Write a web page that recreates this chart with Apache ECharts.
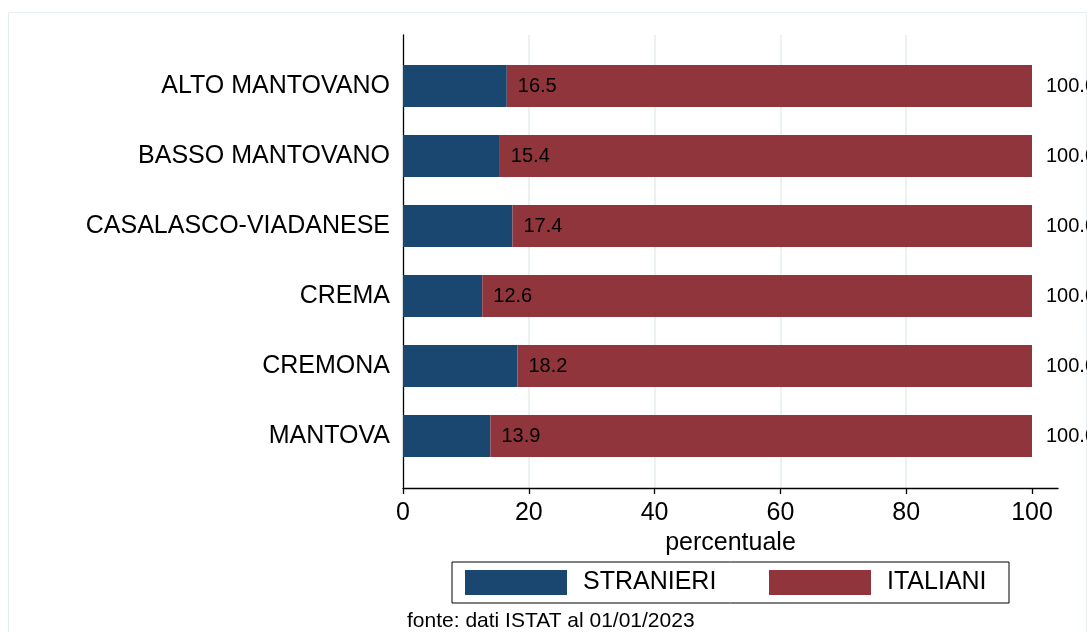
<!DOCTYPE html>
<html>
<head>
<meta charset="utf-8">
<title>Stranieri e italiani per distretto</title>
<script src="https://cdn.jsdelivr.net/npm/echarts@6/dist/echarts.min.js"></script>
<style>
  html, body { margin: 0; padding: 0; background: #fff; }
  #chart { width: 1087px; height: 632px; }
</style>
</head>
<body>
<div id="chart"></div>
<script>
const categories = ['ALTO MANTOVANO', 'BASSO MANTOVANO', 'CASALASCO-VIADANESE', 'CREMA', 'CREMONA', 'MANTOVA'];
const stranieri = [16.5, 15.4, 17.4, 12.6, 18.2, 13.9];
const italiani = [83.5, 84.6, 82.6, 87.4, 81.8, 86.1];
const totali = [100.0, 100.0, 100.0, 100.0, 100.0, 100.0];
const xTicks = [0, 20, 40, 60, 80, 100];

const font = "'Liberation Sans', Arial, sans-serif";
const navy = '#1a476f';
const maroon = '#90353b';

const chart = echarts.init(document.getElementById('chart'));

const option = {
  animation: false,
  textStyle: { fontFamily: font, color: '#000' },
  title: {
    text: 'fonte: dati ISTAT al 01/01/2023',
    left: 407,
    top: 611,
    padding: 0,
    textStyle: { fontFamily: font, fontSize: 21, fontWeight: 'normal', color: '#000' },
  },
  legend: {
    left: 452,
    top: 562,
    padding: [8, 13],
    itemGap: 42,
    itemWidth: 102,
    itemHeight: 25,
    icon: 'rect',
    borderColor: '#000',
    borderWidth: 1,
    selectedMode: false,
    textStyle: { fontFamily: font, fontSize: 25, color: '#000', lineHeight: 25, padding: [0, 0, 0, 11] },
    data: [
      { name: 'STRANIERI', textStyle: { width: 144 } },
      { name: 'ITALIANI', textStyle: { width: 109 } },
    ],
  },
  graphic: [
    {
      type: 'rect',
      silent: true,
      shape: { x: 8.5, y: 12.5, width: 1078, height: 640 },
      style: { fill: 'none', stroke: '#e6eef1', lineWidth: 1 },
    },
  ],
  grid: [
    // frame: axis lines, ticks and grid lines
    { left: 403, top: 35, width: 655, height: 453 },
    // bars
    { left: 403, top: 51, width: 629, height: 420 },
  ],
  xAxis: [
    {
      gridIndex: 0,
      type: 'value',
      min: 0,
      max: 104.13,
      interval: 20,
      name: 'percentuale',
      nameLocation: 'middle',
      nameGap: 36,
      nameTextStyle: { fontFamily: font, fontSize: 25, color: '#000' },
      axisLine: { show: true, lineStyle: { color: '#000', width: 1.3 } },
      axisTick: { show: true, length: 6, customValues: xTicks, lineStyle: { color: '#000', width: 1.3 } },
      axisLabel: { customValues: xTicks, margin: 13, fontFamily: font, fontSize: 25, color: '#000' },
      splitLine: { show: true, showMinLine: false, showMaxLine: false, lineStyle: { color: '#e6eef1', width: 1.5 } },
    },
    {
      gridIndex: 1,
      type: 'value',
      min: 0,
      max: 100,
      show: false,
    },
  ],
  yAxis: [
    {
      gridIndex: 0,
      type: 'value',
      min: 0,
      max: 1,
      axisLine: { show: true, lineStyle: { color: '#000', width: 1.3 } },
      axisTick: { show: false },
      axisLabel: { show: false },
      splitLine: { show: false },
    },
    {
      gridIndex: 1,
      type: 'category',
      inverse: true,
      data: categories,
      axisLine: { show: false },
      axisTick: { show: false },
      axisLabel: { margin: 13, fontFamily: font, fontSize: 25, color: '#000' },
    },
  ],
  series: [
    {
      name: 'STRANIERI',
      type: 'bar',
      stack: 'tot',
      xAxisIndex: 1,
      yAxisIndex: 1,
      barWidth: 42,
      data: stranieri,
      itemStyle: { color: navy },
      label: {
        show: true,
        position: 'right',
        distance: 11,
        fontFamily: font,
        fontSize: 20,
        color: '#000',
        formatter: (p) => p.value.toFixed(1),
      },
    },
    {
      name: 'ITALIANI',
      type: 'bar',
      stack: 'tot',
      xAxisIndex: 1,
      yAxisIndex: 1,
      barWidth: 42,
      data: italiani,
      itemStyle: { color: maroon },
      label: {
        show: true,
        position: 'right',
        distance: 14,
        fontFamily: font,
        fontSize: 20,
        color: '#000',
        formatter: (p) => totali[p.dataIndex].toFixed(1),
      },
    },
  ],
};

chart.setOption(option);
</script>
</body>
</html>
